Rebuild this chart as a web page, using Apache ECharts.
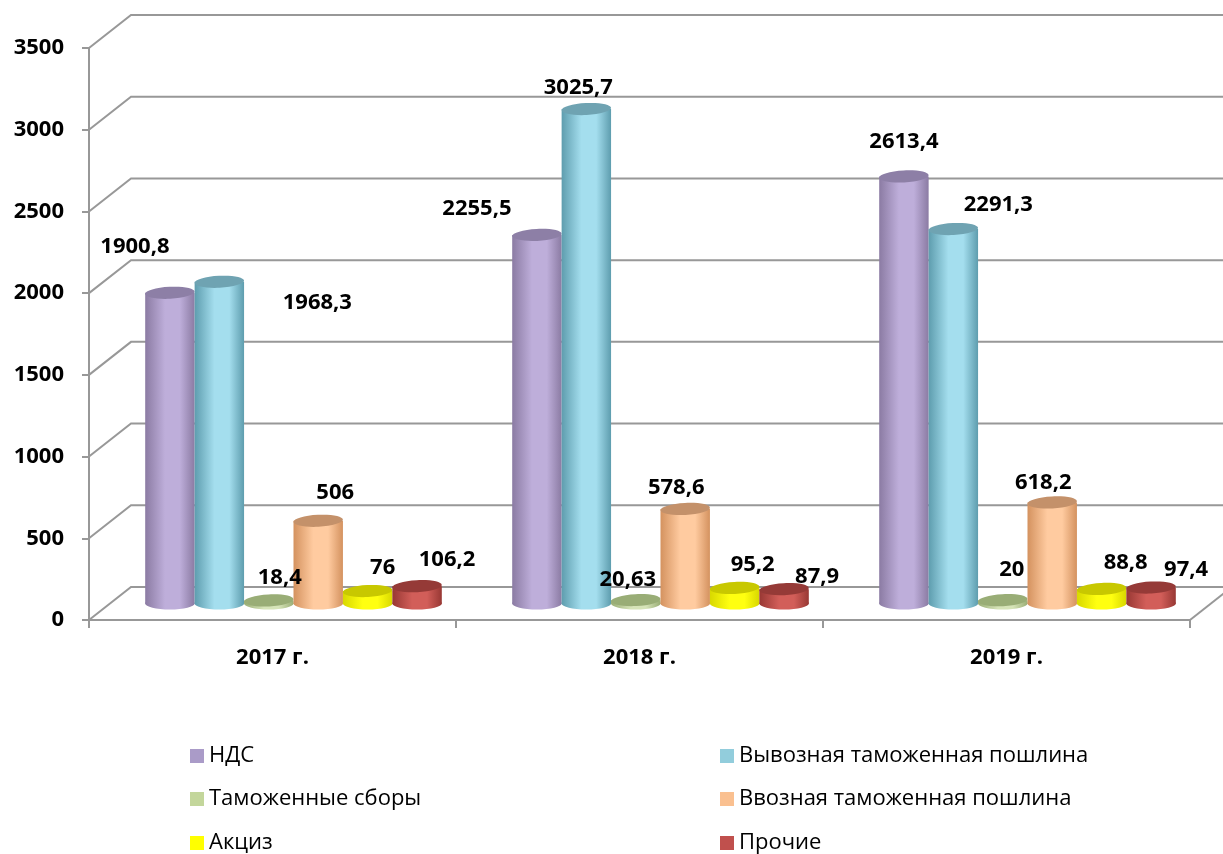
<!DOCTYPE html>
<html>
<head>
<meta charset="utf-8">
<script src="https://cdn.jsdelivr.net/npm/echarts@6/dist/echarts.min.js"></script>
<style>
  html, body { margin: 0; padding: 0; background: #fff; }
  #content { width: 1223px; height: 854px; }
</style>
</head>
<body>
<div id="content"></div>
<script>
// data
const years = ['2017 г.', '2018 г.', '2019 г.']
const names = ['НДС', 'Вывозная таможенная пошлина', 'Таможенные сборы',
  'Ввозная таможенная пошлина', 'Акциз', 'Прочие']
const nds = [1900.8, 2255.5, 2613.4]
const vyvoz = [1968.3, 3025.7, 2291.3]
const sbory = [18.4, 20.63, 20]
const vvoz = [506, 578.6, 618.2]
const akciz = [76, 95.2, 88.8]
const prochie = [106.2, 87.9, 97.4]
const yTicks = [0, 500, 1000, 1500, 2000, 2500, 3000, 3500]

const values = [nds, vyvoz, sbory, vvoz, akciz, prochie]

// look of each cylinder: legend colour, dark edge, light middle, top cap
const looks = [
  {legend: '#AA9BC8', edge: '#8B7BA3', light: '#BEAEDA', top: '#8D7FA6'},
  {legend: '#92CDDC', edge: '#5E9DAE', light: '#A4DEEE', top: '#6FA3B2'},
  {legend: '#C3D69B', edge: '#9AAE76', light: '#D6E4B8', top: '#99AD76'},
  {legend: '#FAC090', edge: '#D4925F', light: '#FFCBA0', top: '#C4916A'},
  {legend: '#FFFF00', edge: '#D8D800', light: '#FFFF10', top: '#C8C800'},
  {legend: '#C0504D', edge: '#983834', light: '#D25E59', top: '#953A37'}
]

// where each value label sits, relative to the top of its cylinder
const labelShift = [
  [[-35, -46], [-60, -26], [0, -35]],
  [[98, 21], [-8, -21], [45, -24]],
  [[11, -23], [-8, -20], [9, -30]],
  [[17, -28], [-9, -21], [-9, -20]],
  [[15, -23], [18, -23], [24, -26]],
  [[30, -26], [33, -12], [35, -18]]
]

// legend slots: two columns, three rows
const legendCols = [190, 720]
const legendRows = [744, 787, 831]

const DEPTH_X = 42
const DEPTH_Y = -33
const GRAY = '#989898'
const FONT = '"Open Sans", "DejaVu Sans", sans-serif'

function fmt(v) {
  return String(v).replace('.', ',')
}

function wallItem(params, api) {
  const cs = params.coordSys
  const t = api.value(1)
  const y = api.coord([0, t])[1]
  const left = cs.x
  const right = cs.x + cs.width
  const children = [{
    type: 'polyline',
    shape: {points: [[left, y], [left + DEPTH_X, y + DEPTH_Y], [right + DEPTH_X, y + DEPTH_Y]]},
    style: {stroke: GRAY, lineWidth: 2, fill: null}
  }]
  if (t === 0) {
    children.push({
      type: 'line',
      shape: {x1: right, y1: y, x2: right + DEPTH_X, y2: y + DEPTH_Y},
      style: {stroke: GRAY, lineWidth: 2}
    })
  }
  return {type: 'group', children: children}
}

function cylinder(s) {
  const look = looks[s]
  return function (params, api) {
    const cat = api.value(0)
    const v = api.value(1)
    const base = api.coord([cat, 0])
    const top = api.coord([cat, v])
    const step = api.size([1, 0])[0] * 0.1347
    const cx = base[0] + (s - 2.5) * step + DEPTH_X / 2
    const by = base[1] + DEPTH_Y / 2
    const ty = top[1] + DEPTH_Y / 2
    const rx = step / 2
    const ry = 6
    const body = {
      type: 'linear', x: 0, y: 0, x2: 1, y2: 0,
      colorStops: [
        {offset: 0, color: look.edge},
        {offset: 0.4, color: look.light},
        {offset: 0.7, color: look.light},
        {offset: 1, color: look.edge}
      ]
    }
    const sh = labelShift[s][cat]
    return {
      type: 'group',
      children: [
        {type: 'ellipse', shape: {cx: cx, cy: by, rx: rx, ry: ry}, style: {fill: body}},
        {type: 'rect', shape: {x: cx - rx, y: ty, width: rx * 2, height: Math.max(by - ty, 0)}, style: {fill: body}},
        {type: 'ellipse', shape: {cx: cx, cy: ty, rx: rx, ry: ry},
          rotation: 0.05, originX: cx, originY: ty,
          style: {fill: look.top}},
        {type: 'text', z2: 100,
          style: {
            text: fmt(v), x: cx + sh[0], y: ty + sh[1],
            fill: '#000', font: 'bold 22px ' + FONT,
            textAlign: 'center', textVerticalAlign: 'middle'
          }}
      ]
    }
  }
}

const series = [{
  name: 'wall',
  type: 'custom',
  renderItem: wallItem,
  data: yTicks.map(t => [0, t]),
  silent: true,
  z: 1
}]
values.forEach((arr, s) => {
  series.push({
    name: names[s],
    type: 'custom',
    renderItem: cylinder(s),
    itemStyle: {color: looks[s].legend},
    encode: {x: 0, y: 1},
    data: arr.map((v, i) => [i, v]),
    z: 2
  })
})

// one legend per name so the two columns line up
const legends = names.map((n, i) => ({
  left: legendCols[i % 2],
  top: legendRows[Math.floor(i / 2)],
  padding: 0,
  data: [n],
  icon: 'rect',
  itemWidth: 14,
  itemHeight: 14,
  textStyle: {fontFamily: FONT, fontSize: 22, color: '#000', lineHeight: 24}
}))

const myChart = echarts.init(document.querySelector('#content'))
myChart.setOption({
  animation: false,
  grid: {left: 89, right: 33, top: 48, bottom: 234},
  legend: legends,
  xAxis: {
    type: 'category',
    data: years,
    axisLine: {lineStyle: {color: GRAY, width: 2}},
    axisTick: {show: true, length: 8, lineStyle: {color: GRAY, width: 2}},
    axisLabel: {margin: 27, color: '#000', fontFamily: FONT, fontWeight: 'bold', fontSize: 22}
  },
  yAxis: {
    type: 'value',
    min: 0,
    max: 3500,
    interval: 500,
    axisLine: {show: true, lineStyle: {color: GRAY, width: 2}},
    axisTick: {show: true, length: 7, lineStyle: {color: GRAY, width: 2}},
    splitLine: {show: false},
    axisLabel: {
      margin: 25, color: '#000', fontFamily: FONT, fontWeight: 'bold', fontSize: 22,
      formatter: v => String(v)
    }
  },
  series: series
})
</script>
</body>
</html>
